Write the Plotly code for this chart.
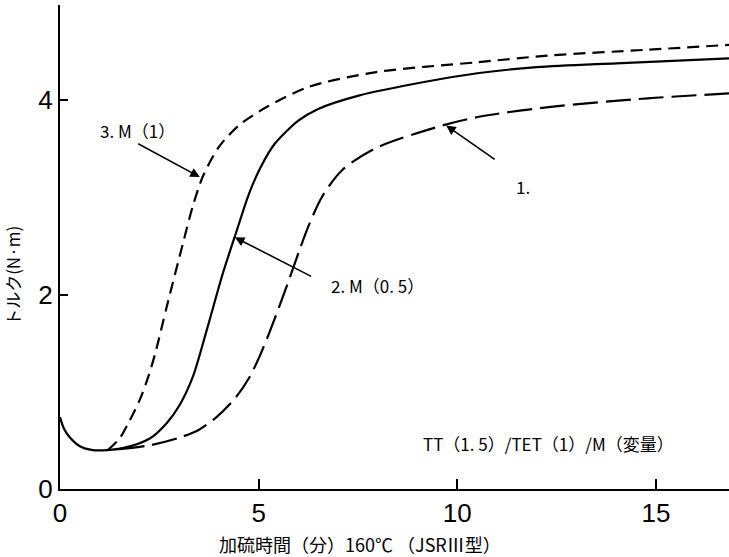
import plotly.graph_objects as go

# Curve 2: M(0.5) - solid (includes common initial segment)
x2 = [0, 0.1, 0.25, 0.5, 0.83, 1.2, 1.58, 2.26, 2.69, 3.02, 3.34, 3.69, 4.10, 4.45, 4.75, 5.05, 5.4, 6.0, 6.5, 7.54, 9.2, 10.55, 12.0, 14.0, 16.84]
y2 = [0.74, 0.62, 0.53, 0.44, 0.40, 0.40, 0.42, 0.52, 0.68, 0.87, 1.15, 1.63, 2.22, 2.66, 3.03, 3.31, 3.55, 3.79, 3.91, 4.05, 4.19, 4.28, 4.34, 4.38, 4.43]

# Curve 3: M(1) - short dashes
x3 = [1.2, 1.5, 1.76, 2.01, 2.21, 2.4, 2.69, 3.09, 3.35, 3.6, 4.0, 4.5, 5.2, 6.28, 7.96, 10.48, 12.3, 14.8, 16.84]
y3 = [0.40, 0.52, 0.71, 0.92, 1.14, 1.40, 1.88, 2.52, 2.92, 3.22, 3.52, 3.74, 3.93, 4.14, 4.29, 4.39, 4.46, 4.52, 4.57]

# Curve 1: no M - long dashes
x1 = [1.5, 2.26, 3.02, 3.5, 3.94, 4.4, 4.77, 5.03, 5.28, 5.53, 5.78, 6.03, 6.28, 6.6, 7.1, 7.96, 9.62, 10.55, 12.3, 14.8, 16.84]
y1 = [0.41, 0.45, 0.53, 0.61, 0.74, 0.93, 1.15, 1.37, 1.62, 1.89, 2.17, 2.46, 2.73, 3.01, 3.28, 3.51, 3.74, 3.83, 3.93, 4.02, 4.07]

x_ticks = [0, 5, 10, 15]
y_ticks = [0, 2, 4]

cjk = "Noto Sans CJK JP, Liberation Sans"
tickfont = dict(family="Liberation Sans Narrow, Liberation Sans", size=26, color="black")

fig = go.Figure()
fig.add_trace(go.Scatter(x=x2, y=y2, mode="lines",
                         line=dict(color="black", width=2.2, shape="spline", smoothing=0.8)))
fig.add_trace(go.Scatter(x=x3, y=y3, mode="lines",
                         line=dict(color="black", width=2.2, dash="12px,7px", shape="spline", smoothing=0.8)))
fig.add_trace(go.Scatter(x=x1, y=y1, mode="lines",
                         line=dict(color="black", width=2.2, dash="25px,8px", shape="spline", smoothing=0.8)))

# arrows (head, tail) in data coords
arrows = [
    ((3.52, 3.21), (1.93, 3.56)),
    ((4.40, 2.59), (6.36, 2.18)),
    ((9.72, 3.74), (10.98, 3.38)),
]
for (hx, hy), (tx, ty) in arrows:
    fig.add_annotation(x=hx, y=hy, ax=tx, ay=ty, xref="x", yref="y", axref="x", ayref="y",
                       text="", showarrow=True, arrowhead=2, arrowsize=1.2, arrowwidth=1.6,
                       arrowcolor="black")

labels = [
    (1.95, 3.69, "3. M（1）"),
    (8.0, 2.09, "2. M（0. 5）"),
    (11.65, 3.11, "1."),
]
for lx, ly, t in labels:
    fig.add_annotation(x=lx, y=ly, xref="x", yref="y", text=t, showarrow=False,
                       xanchor="center", yanchor="middle",
                       font=dict(family=cjk, size=17, color="black"))

fig.add_annotation(x=12.29, y=0.47, xref="x", yref="y", text="TT（1. 5）/TET（1）/M（変量）",
                   showarrow=False, xanchor="center", yanchor="middle",
                   font=dict(family=cjk, size=17, color="black"))

# axis titles
fig.add_annotation(x=0.448, y=-0.113, xref="paper", yref="paper", text="加硫時間（分）160℃ （JSRⅢ型）",
                   showarrow=False, xanchor="center", yanchor="middle",
                   font=dict(family=cjk, size=18, color="black"))
fig.add_annotation(x=-0.072, y=0.44, xref="paper", yref="paper", text="トルク(N·m)", textangle=-90,
                   showarrow=False, xanchor="center", yanchor="middle",
                   font=dict(family=cjk, size=17, color="black"))

fig.update_layout(
    width=729, height=557,
    margin=dict(l=60, r=0, t=5, b=68),
    paper_bgcolor="white", plot_bgcolor="white",
    showlegend=False,
    xaxis=dict(range=[0, 16.84], tickvals=x_ticks, ticktext=[str(v) for v in x_ticks],
               ticks="inside", ticklen=10, tickwidth=2, tickcolor="black",
               showline=True, linecolor="black", linewidth=2, showgrid=False, zeroline=False,
               tickfont=tickfont, automargin=False),
    yaxis=dict(range=[0, 4.98], tickvals=y_ticks, ticktext=[str(v) for v in y_ticks],
               ticks="inside", ticklen=8, tickwidth=2, tickcolor="black",
               showline=True, linecolor="black", linewidth=2, showgrid=False, zeroline=False,
               tickfont=tickfont, automargin=False),
)

fig.write_html("out.html", config={"displayModeBar": False},
               post_script="document.body.style.margin='0';document.body.style.padding='0';")
